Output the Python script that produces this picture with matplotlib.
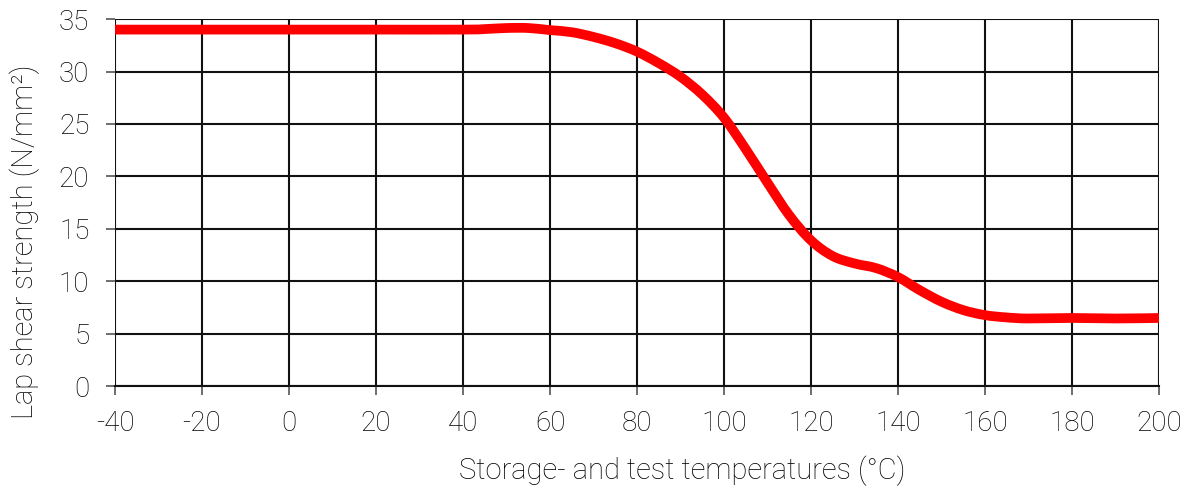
import numpy as np
import matplotlib.pyplot as plt
from matplotlib.path import Path
from matplotlib.patches import PathPatch

# lap shear strength vs. storage/test temperature
temperature = [-40, -20, 0, 20, 40, 45, 50, 55, 60, 65, 70, 75, 80, 85, 90, 95,
               100, 105, 110, 115, 120, 125, 130, 135, 140, 145, 150, 155,
               160, 165, 170, 180, 190, 200]
strength = [34.0, 34.0, 34.0, 34.0, 34.0, 34.05, 34.15, 34.15, 33.95, 33.75, 33.3,
            32.7, 31.9, 30.8, 29.5, 27.8, 25.6, 22.6, 19.4, 16.3, 13.9, 12.4,
            11.7, 11.25, 10.4, 9.15, 8.05, 7.25, 6.77, 6.55, 6.45, 6.5, 6.45, 6.5]

x_ticks = np.arange(-40, 201, 20)
y_ticks = np.arange(0, 36, 5)


def smooth_path(xs, ys):
    """Excel-like smoothed line: cubic bezier segments through every point."""
    pts = np.column_stack([xs, ys]).astype(float)
    verts = [pts[0]]
    codes = [Path.MOVETO]
    n = len(pts)
    for i in range(n - 1):
        p0 = pts[max(i - 1, 0)]
        p1 = pts[i]
        p2 = pts[i + 1]
        p3 = pts[min(i + 2, n - 1)]
        verts += [p1 + (p2 - p0) / 6, p2 - (p3 - p1) / 6, p2]
        codes += [Path.CURVE4] * 3
    return Path(verts, codes)


plt.rcParams['font.family'] = ['Roboto', 'DejaVu Sans']
plt.rcParams['font.weight'] = 'light'
plt.rcParams['axes.labelweight'] = 'light'
plt.rcParams['axes.unicode_minus'] = False

fig, ax = plt.subplots(figsize=(11.91, 4.9), dpi=100)
fig.subplots_adjust(left=0.0966, right=0.9731, top=0.961, bottom=0.212)

curve = PathPatch(smooth_path(temperature, strength), facecolor='none',
                  edgecolor='#ff0000', lw=7, capstyle='butt', joinstyle='round',
                  zorder=3)
ax.add_patch(curve)

ax.set_xlim(-40, 200)
ax.set_ylim(0, 35)
ax.set_xticks(x_ticks)
ax.set_yticks(y_ticks)
ax.grid(True, color='#111111', lw=1.5)
for side in ['top', 'right', 'left']:
    ax.spines[side].set_visible(False)
ax.spines['bottom'].set_color('#111111')
ax.spines['bottom'].set_linewidth(1.5)
ax.tick_params(axis='both', length=6.5, width=1.2, color='#555555',
               labelsize=20, colors='#000000')
ax.tick_params(axis='y', pad=12)
ax.tick_params(axis='x', pad=11)

ax.set_xlabel('Storage- and test temperatures (°C)', fontsize=21, color='#000000')
ax.set_ylabel('Lap shear strength (N/mm²)', fontsize=21, color='#000000')
ax.xaxis.set_label_coords(0.543, -0.19)
ax.yaxis.set_label_coords(-0.072, 0.393)

fig.savefig('out.png', dpi=100)
